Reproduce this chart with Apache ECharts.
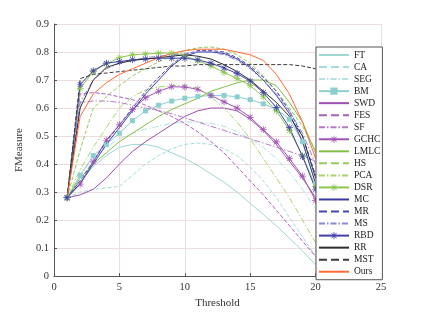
<!DOCTYPE html>
<html>
<head>
<meta charset="utf-8">
<script src="https://cdn.jsdelivr.net/npm/echarts@6/dist/echarts.min.js"></script>
<style>html,body{margin:0;padding:0;background:#fff}#c{width:421px;height:314px}</style>
</head>
<body>
<div id="c"></div>
<script>
const thresholds = [1,2,3,4,5,6,7,8,9,10,11,12,13,14,15,16,17,18,19,20];
const FT   = [0.28,0.34,0.39,0.43,0.46,0.47,0.47,0.46,0.44,0.42,0.395,0.365,0.335,0.30,0.26,0.22,0.18,0.135,0.09,0.04];
const CA   = [0.28,0.30,0.31,0.315,0.32,0.36,0.40,0.43,0.455,0.47,0.475,0.47,0.455,0.43,0.39,0.34,0.28,0.21,0.14,0.07];
const SEG  = [0.28,0.36,0.42,0.46,0.49,0.51,0.525,0.535,0.545,0.55,0.55,0.545,0.535,0.515,0.49,0.46,0.42,0.37,0.31,0.24];
const BM   = [0.28,0.36,0.43,0.47,0.51,0.555,0.59,0.61,0.625,0.635,0.641,0.645,0.645,0.64,0.63,0.615,0.596,0.56,0.48,0.33];
const SWD  = [0.28,0.29,0.31,0.35,0.40,0.445,0.48,0.51,0.54,0.57,0.59,0.60,0.60,0.59,0.56,0.52,0.47,0.41,0.35,0.28];
const FES  = [0.28,0.65,0.655,0.65,0.64,0.63,0.61,0.59,0.57,0.545,0.515,0.48,0.44,0.39,0.34,0.29,0.235,0.18,0.125,0.07];
const SF   = [0.28,0.62,0.625,0.625,0.62,0.61,0.60,0.59,0.58,0.565,0.55,0.535,0.52,0.505,0.49,0.475,0.46,0.445,0.43,0.41];
const GCHC = [0.28,0.328,0.408,0.485,0.54,0.595,0.637,0.66,0.676,0.675,0.667,0.645,0.622,0.60,0.567,0.523,0.479,0.42,0.357,0.27];
const LMLC = [0.28,0.35,0.40,0.44,0.48,0.51,0.54,0.57,0.595,0.615,0.635,0.66,0.675,0.69,0.70,0.70,0.68,0.62,0.55,0.44];
const HS   = [0.28,0.45,0.60,0.64,0.68,0.715,0.74,0.765,0.785,0.805,0.815,0.818,0.81,0.79,0.76,0.715,0.66,0.60,0.535,0.45];
const PCA  = [0.28,0.38,0.46,0.53,0.60,0.64,0.665,0.675,0.68,0.68,0.67,0.64,0.60,0.55,0.49,0.42,0.35,0.28,0.20,0.12];
const DSR  = [0.28,0.67,0.73,0.758,0.78,0.79,0.793,0.796,0.796,0.785,0.77,0.75,0.727,0.705,0.68,0.64,0.59,0.52,0.43,0.32];
const MC   = [0.28,0.33,0.40,0.47,0.53,0.59,0.65,0.70,0.75,0.785,0.80,0.80,0.795,0.775,0.745,0.70,0.645,0.58,0.48,0.33];
const MR   = [0.28,0.34,0.41,0.48,0.54,0.60,0.66,0.71,0.755,0.79,0.805,0.805,0.80,0.78,0.75,0.71,0.66,0.59,0.50,0.36];
const MS   = [0.28,0.62,0.70,0.74,0.76,0.77,0.78,0.785,0.79,0.795,0.80,0.80,0.79,0.77,0.74,0.70,0.65,0.59,0.51,0.40];
const RBD  = [0.28,0.684,0.733,0.76,0.766,0.772,0.775,0.778,0.778,0.778,0.772,0.76,0.743,0.723,0.696,0.655,0.602,0.53,0.427,0.31];
const RR   = [0.28,0.60,0.70,0.745,0.76,0.77,0.775,0.78,0.785,0.79,0.785,0.775,0.755,0.73,0.70,0.66,0.62,0.57,0.50,0.35];
const MST  = [0.28,0.705,0.72,0.725,0.73,0.735,0.74,0.745,0.75,0.75,0.755,0.755,0.755,0.755,0.755,0.755,0.755,0.755,0.75,0.74];
const Ours = [0.28,0.57,0.65,0.69,0.72,0.74,0.76,0.78,0.795,0.805,0.81,0.81,0.81,0.80,0.79,0.77,0.72,0.65,0.55,0.42];

const xTicks = [0,5,10,15,20,25];
const yTicks = [0,0.1,0.2,0.3,0.4,0.5,0.6,0.7,0.8,0.9];

const STAR = 'path://M-10,-1L10,-1L10,1L-10,1Z M-1,-10L1,-10L1,10L-1,10Z M-7.8,-6.4L-6.4,-7.8L7.8,6.4L6.4,7.8Z M6.4,-7.8L7.8,-6.4L-6.4,7.8L-7.8,6.4Z';
const DASHDOT = [6,2,1.5,2];

const defs = [
  ['FT', FT, '#9ed6d6', 'solid', null],
  ['CA', CA, '#a9dcdc', 'dashed', null],
  ['SEG', SEG, '#b5e2e2', DASHDOT, null],
  ['BM', BM, '#8ccfcf', 'solid', 'rect'],
  ['SWD', SWD, '#9d4fb0', 'solid', null],
  ['FES', FES, '#a860bc', 'dashed', null],
  ['SF', SF, '#b47ac6', DASHDOT, null],
  ['GCHC', GCHC, '#a052b4', 'solid', STAR],
  ['LMLC', LMLC, '#84bf45', 'solid', null],
  ['HS', HS, '#98cc5a', 'dashed', null],
  ['PCA', PCA, '#a9d46e', DASHDOT, null],
  ['DSR', DSR, '#8cc850', 'solid', STAR],
  ['MC', MC, '#3b3ba3', 'solid', null],
  ['MR', MR, '#4646b0', 'dashed', null],
  ['MS', MS, '#8a8ad6', DASHDOT, null],
  ['RBD', RBD, '#4040aa', 'solid', STAR],
  ['RR', RR, '#2e2e2e', 'solid', null],
  ['MST', MST, '#3c3c3c', 'dashed', null],
  ['Ours', Ours, '#ff6a35', 'solid', null]
];

const series = defs.map(([name, vals, color, dash, sym]) => ({
  name: name,
  type: 'line',
  data: thresholds.map((t, i) => [t, vals[i]]),
  color: color,
  lineStyle: { color: color, width: 1, type: dash },
  symbol: sym || 'none',
  showSymbol: !!sym,
  symbolSize: sym === 'rect' ? 5 : 7,
  itemStyle: { color: color },
  animation: false,
  silent: true
}));

const legendData = defs.map(([name, vals, color, dash, sym]) => sym
  ? { name: name }
  : { name: name, itemStyle: { color: 'rgba(0,0,0,0)', borderWidth: 0, opacity: 0 } });

const SERIF = 'Liberation Serif';
const chart = echarts.init(document.getElementById('c'), null, { renderer: 'canvas' });
chart.setOption({
  backgroundColor: '#fff',
  animation: false,
  grid: { left: 54, right: 40, top: 24, bottom: 35, containLabel: false },
  xAxis: {
    type: 'value', min: 0, max: 25, interval: 5,
    name: 'Threshold', nameLocation: 'middle', nameGap: 19,
    nameTextStyle: { fontFamily: SERIF, fontSize: 11, color: '#333' },
    axisLine: { show: true, lineStyle: { color: '#555', width: 1 } },
    axisTick: { show: true, inside: true, length: 3, lineStyle: { color: '#555' } },
    axisLabel: { fontFamily: SERIF, fontSize: 10.5, color: '#333', margin: 6,
      formatter: v => xTicks.includes(v) ? String(v) : '' },
    splitLine: { show: true, lineStyle: { color: '#f0dede', width: 1 } }
  },
  yAxis: {
    type: 'value', min: 0, max: 0.9, interval: 0.1,
    name: 'FMeasure', nameLocation: 'middle', nameGap: 27,
    nameTextStyle: { fontFamily: SERIF, fontSize: 11, color: '#333' },
    axisLine: { show: true, lineStyle: { color: '#555', width: 1 } },
    axisTick: { show: true, inside: true, length: 3, lineStyle: { color: '#555' } },
    axisLabel: { fontFamily: SERIF, fontSize: 10.5, color: '#333', margin: 5,
      formatter: v => { const t = yTicks.find(y => Math.abs(y - v) < 1e-6); return t === undefined ? '' : (t === 0 ? '0' : t.toFixed(1)); } },
    splitLine: { show: true, lineStyle: { color: '#f0dede', width: 1 } }
  },
  legend: {
    orient: 'vertical', left: 316, top: 47,
    backgroundColor: '#fff', borderColor: '#555', borderWidth: 1,
    padding: [3, 2, 3, 2],
    itemWidth: 30, itemHeight: 9, itemGap: 2.04,
    textStyle: { fontFamily: SERIF, fontSize: 9.5, color: '#222' },
    selectedMode: false,
    data: legendData
  },
  series: series
});
</script>
</body>
</html>
